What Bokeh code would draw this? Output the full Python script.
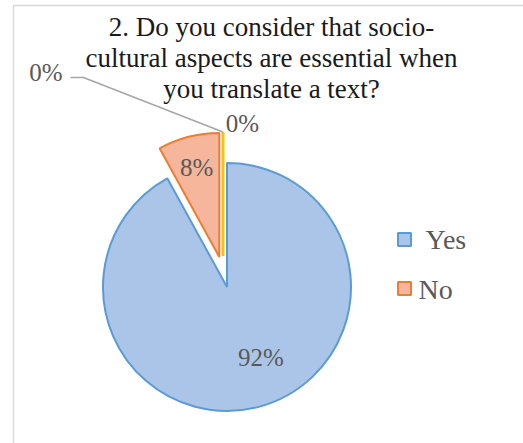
import math
from bokeh.plotting import figure
from bokeh.models import Range1d
from bokeh.core.properties import value
from bokeh.embed import file_html
from bokeh.resources import INLINE

# ---- data ----
categories = ["Yes", "No", "Blank A", "Blank B"]
values = [92, 8, 0, 0]
pct_labels = ["92%", "8%", "0%", "0%"]
legend_items = ["Yes", "No"]
title_lines = ["2. Do you consider that socio-",
               "cultural aspects are essential when",
               "you translate a text?"]

# ---- style ----
W, H = 523, 443
fills = ["#abc5e8", "#f5b69b", "#ffd966", "#ffd966"]
lines = ["#5b9bd5", "#ed7d31", "#ffc000", "#ffc000"]
explode = [0.0, 0.25, 0.25, 0.25]
CX, CY, R = 226.5, 286.5, 124.0
FONT = value("'Liberation Serif', 'Times New Roman', serif")
BASE_FIX = 0.33  # baseline correction as fraction of font size

def Y(py):
    return H - py

p = figure(width=W, height=H, x_range=Range1d(0, W), y_range=Range1d(0, H),
           output_backend="svg", toolbar_location=None,
           x_axis_type=None, y_axis_type=None, min_border=0)
p.grid.visible = False
p.outline_line_color = None
p.background_fill_color = "white"

# chart border (left/top visible)
p.quad(left=[13], right=[W + 10], top=[Y(5)], bottom=[Y(H + 10)],
       fill_color=None, line_color="#d9d9d9", line_width=1.5)

total = float(sum(values))
cum = [0.0]
for v in values:
    cum.append(cum[-1] + v / total)

verts = []
for i, v in enumerate(values):
    t0, t1 = cum[i] * 360, cum[i + 1] * 360
    tm = math.radians((t0 + t1) / 2)
    off = explode[i] * R
    vx = CX + off * math.sin(tm)
    vy = CY - off * math.cos(tm)
    verts.append((vx, vy, t0, t1))
    if v > 0:
        # clockwise from 12 o'clock -> math angles
        p.wedge(x=[vx], y=[Y(vy)], radius=R,
                start_angle=math.radians(90 - t1), end_angle=math.radians(90 - t0),
                direction="anticlock", fill_color=fills[i], line_color=lines[i],
                line_width=2)

# zero-size slices drawn as a thin line
for i, v in enumerate(values):
    if v == 0:
        vx, vy, t0, t1 = verts[i]
        a = math.radians(t0)
        x0 = vx - 4
        p.segment(x0=[x0], y0=[Y(vy)], x1=[x0 + R * math.sin(a)], y1=[Y(vy - R * math.cos(a))],
                  line_color=lines[i], line_width=2.5)

def txt(x, y, t, size, color, align="center"):
    p.text(x=[x], y=[Y(y - BASE_FIX * size)], text=[t], text_font=FONT,
           text_font_size=f"{size}px", text_color=color, text_align=align,
           text_baseline="alphabetic")

# data labels
lab_col = "#595959"
LS = 25
# Yes
vx, vy, t0, t1 = verts[0]
tm = math.radians((t0 + t1) / 2)
txt(vx + 0.6 * R * math.sin(tm) + 15.5, vy - 0.6 * R * math.cos(tm) + 6.5, pct_labels[0], LS, lab_col)
# No
vx, vy, t0, t1 = verts[1]
tm = math.radians((t0 + t1) / 2)
txt(vx + 0.73 * R * math.sin(tm), vy - 0.73 * R * math.cos(tm) + 6, pct_labels[1], LS, lab_col)
# zero labels
vx, vy, t0, t1 = verts[2]
top_x, top_y = vx - 4, vy - R
txt(top_x + 19.5, top_y - 0.5, pct_labels[2], LS, lab_col)
p.line(x=[70, 83, top_x], y=[Y(77), Y(77), Y(top_y)], line_color="#a6a6a6", line_width=1.5)
txt(45.5, 80, pct_labels[3], LS, lab_col)

# title
for k, t in enumerate(title_lines):
    txt(271, 35 + 31 * k, t, 27, "#1a1a1a")

# legend
for k, name in enumerate(legend_items):
    yy = 239 + 49 * k
    p.rect(x=[404], y=[Y(yy)], width=13, height=13, fill_color=fills[k],
           line_color=lines[k], line_width=2)
    txt(418 + (7 if k == 0 else 0), 248 + 50 * k, name, 28, lab_col, align="left")

open("out.html", "w").write(file_html(p, INLINE))
